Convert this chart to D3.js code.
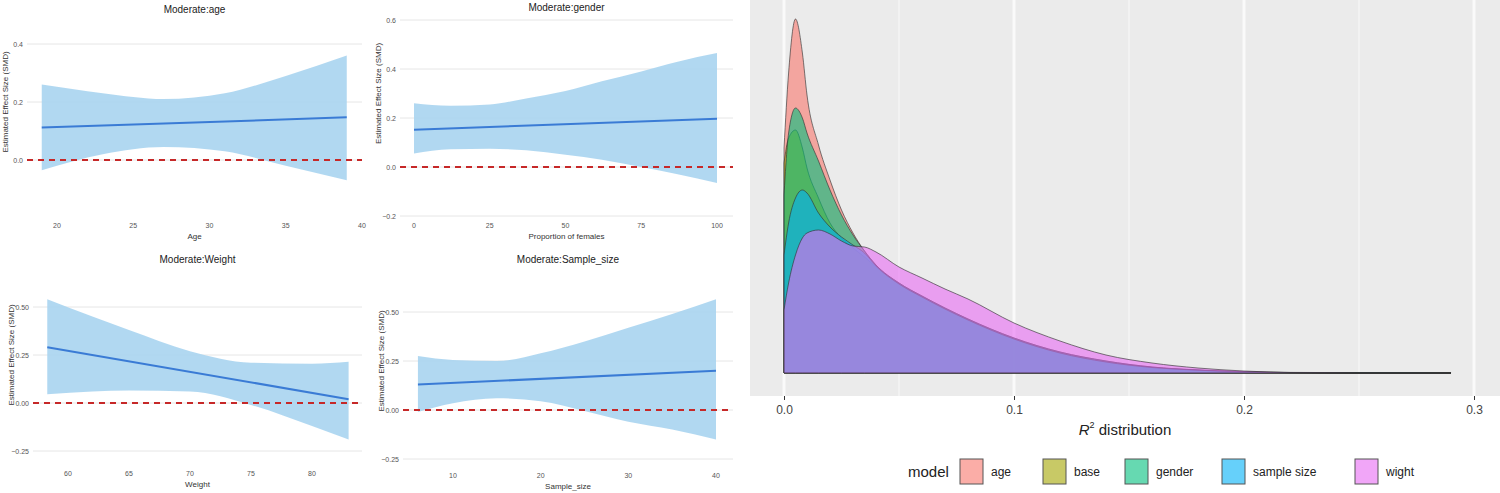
<!DOCTYPE html>
<html>
  <head><meta charset="utf-8"></head>
  <body style="margin:0;background:#fff">
    <script src="https://d3js.org/d3.v7.min.js"></script>
    <script type="text/javascript">
      // moderator panels: x grid, band upper/lower, fitted line ends
      const ageX = [19, 23, 27, 31, 35, 39];
      const ageUpper = [0.26, 0.23, 0.21, 0.23, 0.29, 0.36];
      const ageLower = [-0.035, 0.02, 0.045, 0.03, -0.02, -0.07];
      const ageFit = [0.112, 0.147];

      const genderX = [0, 12, 25, 37, 50, 62, 75, 87, 100];
      const genderUpper = [0.26, 0.25, 0.255, 0.28, 0.31, 0.35, 0.39, 0.43, 0.465];
      const genderLower = [0.055, 0.072, 0.075, 0.068, 0.05, 0.03, 0.0, -0.03, -0.065];
      const genderFit = [0.152, 0.197];

      const weightX = [58.3, 62, 65, 70, 75, 80, 83];
      const weightUpper = [0.54, 0.45, 0.38, 0.27, 0.21, 0.205, 0.215];
      const weightLower = [0.045, 0.06, 0.065, 0.06, -0.01, -0.12, -0.19];
      const weightFit = [0.29, 0.02];

      const sampleX = [6, 10, 15, 20, 25, 30, 35, 40];
      const sampleUpper = [0.275, 0.255, 0.25, 0.29, 0.35, 0.42, 0.49, 0.565];
      const sampleLower = [-0.01, 0.035, 0.06, 0.045, -0.005, -0.06, -0.1, -0.15];
      const sampleFit = [0.13, 0.2];

      // R^2 density curves (relative density)
      const r2Grid = [0, 0.002, 0.005, 0.008, 0.01, 0.015, 0.02, 0.025, 0.03, 0.035, 0.04, 0.05, 0.06, 0.07, 0.08, 0.1, 0.12, 0.14, 0.16, 0.18, 0.2, 0.22, 0.25, 0.29];
      const densAge    = [225, 300, 354, 320, 278, 228, 193, 163, 140, 122, 108, 90, 77, 65, 54, 35, 21, 12, 6, 3, 1.2, 0.4, 0, 0];
      const densBase   = [210, 235, 243, 225, 205, 175, 150, 135, 125, 116, 106, 89, 76, 64, 53, 34, 20, 11, 5.5, 2.8, 1, 0.3, 0, 0];
      const densGender = [178, 240, 265, 255, 240, 212, 183, 158, 138, 122, 108, 90, 77, 65, 54, 35, 21, 12, 6, 3, 1.2, 0.4, 0, 0];
      const densSample = [118, 150, 175, 183, 180, 160, 146, 136, 128, 120, 107, 89, 76, 64, 53, 34, 20, 11, 5.5, 2.8, 1.2, 0.6, 0.3, 0.1];
      const densWight  = [63, 90, 118, 135, 140, 143, 139, 132, 127, 126, 121, 106, 95, 84, 74, 50, 32, 18, 10, 5, 2, 0.5, 0, 0];
      const models = ['age', 'base', 'gender', 'sample size', 'wight'];
      const modelColors = ['#F8766D', '#A3A500', '#00BF7D', '#00B0F6', '#E76BF3'];
      const r2Ticks = [0, 0.1, 0.2, 0.3];

      const svg = d3.select('body').append('svg')
        .attr('width', 1500).attr('height', 493)
        .style('font-family', 'Liberation Sans, Arial, sans-serif');

      function panel(o) {
        const g = svg.append('g');
        const x = d3.scaleLinear().domain(o.xDomain).range(o.xRange);
        const y = d3.scaleLinear().domain(o.yDomain).range(o.yRange);
        const [l, r] = o.gridX;
        g.selectAll('.grid').data(o.yTicks).join('line')
          .attr('x1', l).attr('x2', r)
          .attr('y1', d => y(d)).attr('y2', d => y(d))
          .attr('stroke', '#e6e6e6').attr('stroke-width', 1);
        g.selectAll('.yl').data(o.yTicks).join('text')
          .attr('x', l - 4).attr('y', d => y(d) + 3)
          .attr('text-anchor', 'end').attr('font-size', 7).attr('fill', '#555')
          .text(d => o.yFmt(d));
        g.selectAll('.xl').data(o.xTicks).join('text')
          .attr('x', d => x(d)).attr('y', o.xLabelY)
          .attr('text-anchor', 'middle').attr('font-size', 7).attr('fill', '#555')
          .text(d => d);
        const band = o.bx.map((v, i) => ({x: v, u: o.up[i], lo: o.lo[i]}));
        g.append('path').datum(band)
          .attr('d', d3.area().x(d => x(d.x)).y0(d => y(d.lo)).y1(d => y(d.u)).curve(d3.curveMonotoneX))
          .attr('fill', '#a9d4ef').attr('opacity', 0.9);
        g.append('line')
          .attr('x1', l).attr('x2', r).attr('y1', y(0)).attr('y2', y(0))
          .attr('stroke', '#c62828').attr('stroke-width', 2).attr('stroke-dasharray', '6,5');
        const bx0 = o.bx[0], bx1 = o.bx[o.bx.length - 1];
        g.append('line')
          .attr('x1', x(bx0)).attr('x2', x(bx1))
          .attr('y1', y(o.fit[0])).attr('y2', y(o.fit[1]))
          .attr('stroke', '#3a7bd5').attr('stroke-width', 2);
        g.append('text').attr('x', (l + r) / 2).attr('y', o.titleY)
          .attr('text-anchor', 'middle').attr('font-size', 10).attr('fill', '#222').text(o.title);
        g.append('text').attr('x', (l + r) / 2).attr('y', o.xLabelY + 11)
          .attr('text-anchor', 'middle').attr('font-size', 8).attr('fill', '#333').text(o.xTitle);
        const ym = (o.yRange[0] + o.yRange[1]) / 2;
        g.append('text').attr('transform', `translate(${o.gridX[0] - 19},${ym}) rotate(-90)`)
          .attr('text-anchor', 'middle').attr('font-size', 8).attr('fill', '#333')
          .text('Estimated Effect Size (SMD)');
      }

      const f1 = d3.format('.1f'), f2 = d3.format('.2f');
      panel({title: 'Moderate:age', titleY: 13, xTitle: 'Age', xLabelY: 228,
        xDomain: [20, 40], xRange: [57, 362], xTicks: [20, 25, 30, 35, 40], gridX: [27, 362],
        yDomain: [0, 0.4], yRange: [160, 44], yTicks: [0, 0.2, 0.4], yFmt: f1,
        bx: ageX, up: ageUpper, lo: ageLower, fit: ageFit});
      panel({title: 'Moderate:gender', titleY: 11, xTitle: 'Proportion of females', xLabelY: 228,
        xDomain: [0, 100], xRange: [414, 717], xTicks: [0, 25, 50, 75, 100], gridX: [400, 733],
        yDomain: [0, 0.6], yRange: [167, 20], yTicks: [-0.2, 0, 0.2, 0.4, 0.6], yFmt: f1,
        bx: genderX, up: genderUpper, lo: genderLower, fit: genderFit});
      panel({title: 'Moderate:Weight', titleY: 263, xTitle: 'Weight', xLabelY: 476,
        xDomain: [60, 80], xRange: [68, 312], xTicks: [60, 65, 70, 75, 80], gridX: [33, 362],
        yDomain: [0, 0.5], yRange: [403, 307], yTicks: [-0.25, 0, 0.25, 0.5], yFmt: f2,
        bx: weightX, up: weightUpper, lo: weightLower, fit: weightFit});
      panel({title: 'Moderate:Sample_size', titleY: 263, xTitle: 'Sample_size', xLabelY: 478,
        xDomain: [10, 40], xRange: [453, 716], xTicks: [10, 20, 30, 40], gridX: [403, 733],
        yDomain: [0, 0.5], yRange: [410, 312], yTicks: [-0.25, 0, 0.25, 0.5], yFmt: f2,
        bx: sampleX, up: sampleUpper, lo: sampleLower, fit: sampleFit});

      // density panel
      const dx = d3.scaleLinear().domain([0, 0.3]).range([784, 1474]);
      const dy = d3.scaleLinear().domain([0, 354]).range([373, 19]);
      const dg = svg.append('g');
      dg.append('rect').attr('x', 750).attr('y', 0).attr('width', 750).attr('height', 396).attr('fill', '#ebebeb');
      dg.selectAll('.minor').data([0.05, 0.15, 0.25]).join('line')
        .attr('x1', d => dx(d)).attr('x2', d => dx(d)).attr('y1', 0).attr('y2', 396)
        .attr('stroke', '#f4f4f4').attr('stroke-width', 1.5);
      dg.selectAll('.major').data(r2Ticks).join('line')
        .attr('x1', d => dx(d)).attr('x2', d => dx(d)).attr('y1', 0).attr('y2', 396)
        .attr('stroke', '#fafafa').attr('stroke-width', 3);
      const dens = [densAge, densBase, densGender, densSample, densWight];
      const area = d3.area().x(d => dx(d[0])).y0(dy(0)).y1(d => dy(d[1])).curve(d3.curveMonotoneX);
      dens.forEach((vals, i) => {
        dg.append('path').datum(r2Grid.map((v, j) => [v, vals[j]]))
          .attr('d', area)
          .attr('fill', modelColors[i]).attr('fill-opacity', 0.6)
          .attr('stroke', '#333').attr('stroke-width', 0.8).attr('stroke-opacity', 0.8);
      });
      const ax = dg.append('g').attr('transform', 'translate(0,396)')
        .call(d3.axisBottom(dx).tickValues(r2Ticks).tickSize(4).tickFormat(d3.format('.1f')));
      ax.select('.domain').remove();
      ax.selectAll('line').attr('stroke', '#333');
      ax.selectAll('text').attr('font-size', 12).attr('fill', '#444').attr('dy', '0.9em');
      const xt = dg.append('text').attr('x', 1125).attr('y', 435).attr('text-anchor', 'middle')
        .attr('font-size', 15).attr('fill', '#222');
      xt.append('tspan').attr('font-style', 'italic').text('R');
      xt.append('tspan').attr('font-size', 9).attr('dy', -7).text('2');
      xt.append('tspan').attr('dy', 7).text(' distribution');

      // legend
      const lg = dg.append('g');
      lg.append('text').attr('x', 908).attr('y', 477).attr('font-size', 15).attr('fill', '#222').text('model');
      const legX = [960, 1043, 1125, 1222, 1355];
      models.forEach((m, i) => {
        lg.append('rect').attr('x', legX[i]).attr('y', 459).attr('width', 23).attr('height', 25)
          .attr('fill', modelColors[i]).attr('fill-opacity', 0.6).attr('stroke', '#555');
        lg.append('text').attr('x', legX[i] + 31).attr('y', 476).attr('font-size', 12).attr('fill', '#222').text(m);
      });
    </script>
  </body>
</html>
